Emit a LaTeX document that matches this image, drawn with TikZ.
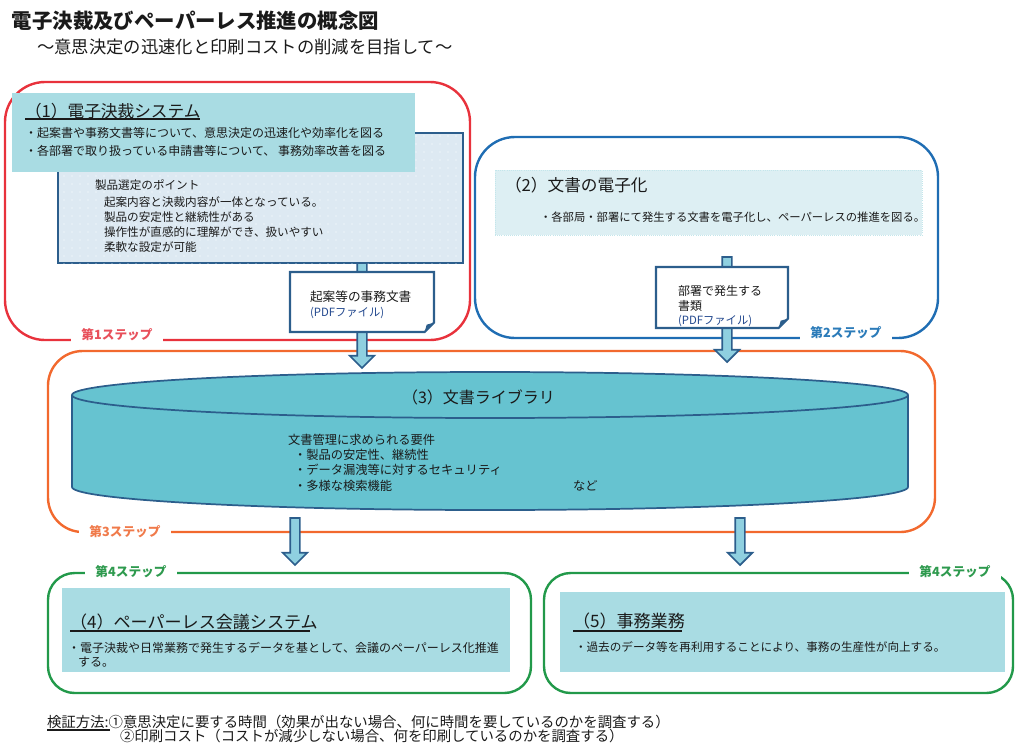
\documentclass[tikz,border=0pt]{standalone}
\usepackage{fontspec}
\setmainfont{Noto Sans CJK JP}
\usetikzlibrary{shapes.arrows,patterns.meta}
\definecolor{cred}{HTML}{E8323C}
\definecolor{cblue}{HTML}{1F6DB3}
\definecolor{corange}{HTML}{F2692E}
\definecolor{cgreen}{HTML}{22994A}
\definecolor{lred}{HTML}{E8505B}
\definecolor{lblue}{HTML}{2B7BB9}
\definecolor{lorange}{HTML}{F07A4A}
\definecolor{lgreen}{HTML}{2E9A4E}
\definecolor{hdr}{HTML}{A9DCE3}
\definecolor{lightbox}{HTML}{DDEFF3}
\definecolor{dotbox}{HTML}{DDE9F2}
\definecolor{navy}{HTML}{2C5E8C}
\definecolor{cyl}{HTML}{66C3D0}
\definecolor{shaft}{HTML}{8FD0E0}
\definecolor{pdfblue}{HTML}{23498F}
\definecolor{txt}{HTML}{1A1A1A}
\newcommand\fs[1]{\fontsize{#1}{#1}\selectfont}
\begin{document}
\begin{tikzpicture}[x=0.75pt,y=-0.75pt,
  every node/.style={inner sep=0pt, outer sep=0pt, text=txt},
  frame/.style={line width=1.8pt},
  stepl/.style={fill=white, inner xsep=7.5pt, inner ysep=2pt, font=\bfseries\fs{9.5}},
  hdrbox/.style={fill=hdr, draw=none},
  fatarrow/.style={single arrow, shape border rotate=270, fill=shaft, draw=navy,
     line width=1.3pt, inner sep=3pt, single arrow head extend=5.6pt,
     single arrow head indent=0pt},
  docline/.style={draw=navy, line width=1.6pt, fill=white},
  tl/.style={anchor=west}
]
\useasboundingbox (0,0) rectangle (1016,744);

% titles
\node[tl, font=\bfseries\fs{15.3}] (title) at (12,21) {電子決裁及びペーパーレス推進の概念図};
\node[tl, font=\fs{13}] (subtitle) at (37,47) {～意思決定の迅速化と印刷コストの削減を目指して～};

% step frames
\draw[frame, cred, rounded corners=30pt] (5,82) rectangle (470,340);
\draw[frame, cblue, rounded corners=30pt] (475,137) rectangle (938,338);
\draw[frame, corange, rounded corners=26pt] (48,351) rectangle (935,532);
\draw[frame, cgreen, rounded corners=20pt] (48,573) rectangle (531,693);
\draw[frame, cgreen, rounded corners=20pt] (544,573) rectangle (1013,693);

\node[stepl, text=lred] (s1) at (117,335) {第1ステップ};
\node[stepl, text=lblue] (s2) at (846,333) {第2ステップ};
\node[stepl, text=lorange] (s3) at (125,532) {第3ステップ};
\node[stepl, text=lgreen] (s4a) at (131,572) {第4ステップ};
\node[stepl, text=lgreen] (s4b) at (955,572) {第4ステップ};

% (1) box
\node[draw=navy, line width=1.6pt, fill=dotbox,
      postaction={pattern={Dots[distance=6pt,radius=0.45pt]}, pattern color=white},
      minimum width=303.75pt, minimum height=97.5pt] (pts) at (260.5,198) {};
\node[hdrbox, minimum width=302.25pt, minimum height=59.25pt] (h1) at (213.5,132.5) {};
\node[tl, font=\fs{12.5}] (h1t) at (25,111) {（1）電子決裁システム};
\draw[line width=1.3pt, txt] (25,119) -- (200,119);
\node[tl, font=\fs{9}] (h1a) at (25,133) {・起案書や事務文書等について、意思決定の迅速化や効率化を図る};
\node[tl, font=\fs{9}] (h1b) at (25,151) {・各部署で取り扱っている申請書等について、 事務効率改善を図る};
\node[tl, font=\fs{8.7}] (p0) at (95,185) {製品選定のポイント};
\node[tl, font=\fs{8.7}] (p1) at (104,202) {起案内容と決裁内容が一体となっている。};
\node[tl, font=\fs{8.7}] (p2) at (104,217) {製品の安定性と継続性がある};
\node[tl, font=\fs{8.7}] (p3) at (104,232) {操作性が直感的に理解ができ、扱いやすい};
\node[tl, font=\fs{8.7}] (p4) at (104,247) {柔軟な設定が可能};

% (2) box
\node[fill=lightbox, draw=hdr!70, densely dotted, line width=0.6pt,
      minimum width=320.25pt, minimum height=48.75pt] (h2) at (708.5,202.5) {};
\node[tl, font=\fs{12.5}] (h2t) at (505,185) {（2）文書の電子化};
\node[tl, font=\fs{8.5}] (h2a) at (540,217) {・各部局・部署にて発生する文書を電子化し、ペーパーレスの推進を図る。};

% arrows from step 1 and 2
\node[fatarrow, minimum height=78.75pt, minimum width=17pt, anchor=tip] (a1) at (362,368) {};
\node[fatarrow, minimum height=78.75pt, minimum width=17pt, anchor=tip] (a2) at (727,362) {};

% documents
\node[minimum width=108pt, minimum height=45pt] (d1) at (362,302) {};
\draw[docline] (d1.north west) -- (d1.north east) -- ([yshift=7pt]d1.south east)
   -- ([xshift=-7pt]d1.south east) -- (d1.south west) -- cycle;
\fill[navy] ([yshift=7pt]d1.south east) -- ([xshift=-7pt]d1.south east) -- ([xshift=-5.5pt,yshift=5.5pt]d1.south east) -- cycle;
\node[tl, font=\fs{9.5}] (d1a) at (310,297) {起案等の事務文書};
\node[tl, font=\fs{8.5}, text=pdfblue] (d1b) at (310,313) {(PDFファイル)};

\node[minimum width=99pt, minimum height=45.75pt] (d2) at (722,297.5) {};
\draw[docline] (d2.north west) -- (d2.north east) -- ([yshift=7pt]d2.south east)
   -- ([xshift=-7pt]d2.south east) -- (d2.south west) -- cycle;
\fill[navy] ([yshift=7pt]d2.south east) -- ([xshift=-7pt]d2.south east) -- ([xshift=-5.5pt,yshift=5.5pt]d2.south east) -- cycle;
\node[tl, font=\fs{9}] (d2a) at (678,291) {部署で発生する};
\node[tl, font=\fs{9}] (d2b) at (678,306) {書類};
\node[tl, font=\fs{8.5}, text=pdfblue] (d2c) at (678,321) {(PDFファイル)};

% (3) cylinder
\fill[cyl] (72,395) -- (72,487) arc[start angle=180, end angle=360, x radius=313.5pt, y radius=17.25pt]
   -- (908,395) arc[start angle=0, end angle=180, x radius=313.5pt, y radius=17.25pt] -- cycle;
\draw[navy, line width=1.3pt] (72,395) -- (72,487) arc[start angle=180, end angle=360, x radius=313.5pt, y radius=17.25pt]
   -- (908,395) arc[start angle=0, end angle=180, x radius=313.5pt, y radius=17.25pt] -- cycle;
\draw[navy, line width=1.3pt] (72,395) arc[start angle=180, end angle=360, x radius=313.5pt, y radius=17.25pt];
\coordinate (lib) at (490,440);
\node[tl, font=\fs{12}] (libt) at (402,397) {（3）文書ライブラリ};
\node[tl, font=\fs{9.2}] (l0) at (288,440) {文書管理に求められる要件};
\node[tl, font=\fs{9.2}] (l1) at (294,455) {・製品の安定性、継続性};
\node[tl, font=\fs{9.2}] (l2) at (294,470) {・データ漏洩等に対するセキュリティ};
\node[tl, font=\fs{9.2}] (l3) at (294,486) {・多様な検索機能};
\node[tl, font=\fs{9.2}] (l4) at (573,486) {など};

% arrows to step 4
\node[fatarrow, minimum height=35.25pt, minimum width=17pt, anchor=tip] (a3) at (295,565) {};
\node[fatarrow, minimum height=35.25pt, minimum width=17pt, anchor=tip] (a4) at (740,565) {};

% (4) box
\node[hdrbox, minimum width=336pt, minimum height=63pt] (h4) at (286,630) {};
\node[tl, font=\fs{12.8}] (h4t) at (70,622) {（4）ペーパーレス会議システム};
\draw[line width=1.3pt, txt] (70,631) -- (310,631);
\node[tl, font=\fs{9}] (h4a) at (68,648) {・電子決裁や日常業務で発生するデータを基として、会議のペーパーレス化推進};
\node[tl, font=\fs{9}] (h4b) at (78,662) {する。};

% (5) box
\node[hdrbox, minimum width=333.75pt, minimum height=60pt] (h5) at (782.5,632) {};
\node[tl, font=\fs{12.8}] (h5t) at (573,621) {（5）事務業務};
\draw[line width=1.3pt, txt] (573,631) -- (682,631);
\node[tl, font=\fs{8.7}] (h5a) at (575,647) {・過去のデータ等を再利用することにより、事務の生産性が向上する。};

% bottom
\node[tl, font=\fs{10.8}] (v1) at (47,722) {検証方法:①意思決定に要する時間（効果が出ない場合、何に時間を要しているのかを調査する）};
\node[tl, font=\fs{10.8}] (v2) at (120,736) {②印刷コスト（コストが減少しない場合、何を印刷しているのかを調査する）};
\draw[line width=0.8pt, txt] (47,730) -- (110,730);
\end{tikzpicture}
\end{document}
